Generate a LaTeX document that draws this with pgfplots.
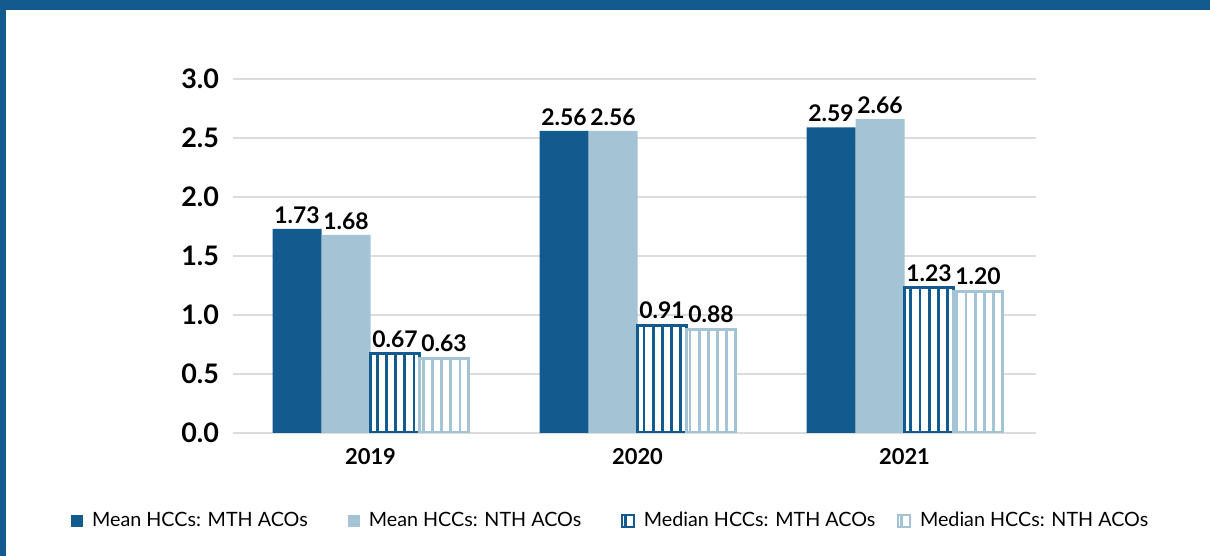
\documentclass[border=0pt]{standalone}
\usepackage{fontspec}
\setmainfont{Lato}
\usepackage{pgfplots}
\pgfplotsset{compat=1.18}
\usetikzlibrary{patterns.meta}
\definecolor{dkblue}{HTML}{135B8F}
\definecolor{ltblue}{HTML}{A4C3D5}
\definecolor{gridgray}{HTML}{DCDCDC}
\tikzset{
  hatch/.style={line width=1.5bp, draw=#1, fill=white,
    postaction={pattern={Lines[angle=90, distance=4.6bp, line width=1.4bp]}, pattern color=#1}},
}
\begin{document}
\begin{tikzpicture}
\useasboundingbox (0,0) rectangle (605bp,278bp);
\fill[white] (0,0) rectangle (605bp,278bp);
\begin{axis}[
    at={(116.5bp,61.5bp)}, anchor=south west,
    scale only axis, width=401.5bp, height=177bp,
    ybar=0pt, bar width=24.5bp,
    xmin=-0.515, xmax=2.4925,
    ymin=0, ymax=3,
    xtick={0,1,2}, xticklabels={2019,2020,2021},
    ytick={0,0.5,...,3},
    /pgf/number format/assume math mode=true,
    ticklabel style={font=\fontsize{13.5}{15}\selectfont\bfseries},
    yticklabel style={xshift=-3.5bp, /pgf/number format/.cd, fixed, precision=1, zerofill},
    xticklabel style={font=\fontsize{11}{13}\selectfont\bfseries, yshift=-4bp},
    major tick length=0pt,
    axis line style={draw=none},
    ymajorgrids, major grid style={gridgray, line width=1bp},
    nodes near coords={\pgfmathprintnumber[fixed,precision=2,zerofill]{\pgfplotspointmeta}},
    nodes near coords style={font=\fontsize{11.5}{14}\selectfont\bfseries, text=black, inner sep=2.5bp},
    legend columns=4,
    legend style={at={(0.4716,-0.2486)}, anchor=center, draw=none, fill=none,
      font=\fontsize{9.9}{12}\selectfont,
      /tikz/every odd column/.append style={column sep=2.5bp},
      /tikz/column 2/.append style={column sep=18bp},
      /tikz/column 4/.append style={column sep=18bp},
      /tikz/column 6/.append style={column sep=9bp}},
    legend image code/.code={\path[#1, line width=0.8bp] (0bp,-3bp) rectangle (6bp,3bp);},
]
\addplot[fill=dkblue, draw=none] coordinates {(0,1.73) (1,2.56) (2,2.59)};
\addplot[fill=ltblue, draw=none] coordinates {(0,1.68) (1,2.56) (2,2.66)};
\addplot[hatch=dkblue] coordinates {(0,0.67) (1,0.91) (2,1.23)};
\addplot[hatch=ltblue] coordinates {(0,0.63) (1,0.88) (2,1.20)};
\legend{Mean HCCs: MTH ACOs, Mean HCCs: NTH ACOs, Median HCCs: MTH ACOs, Median HCCs: NTH ACOs}
\end{axis}
\fill[dkblue] (0,273bp) rectangle (605bp,278bp);
\fill[dkblue] (0,0) rectangle (3bp,278bp);
\end{tikzpicture}
\end{document}
